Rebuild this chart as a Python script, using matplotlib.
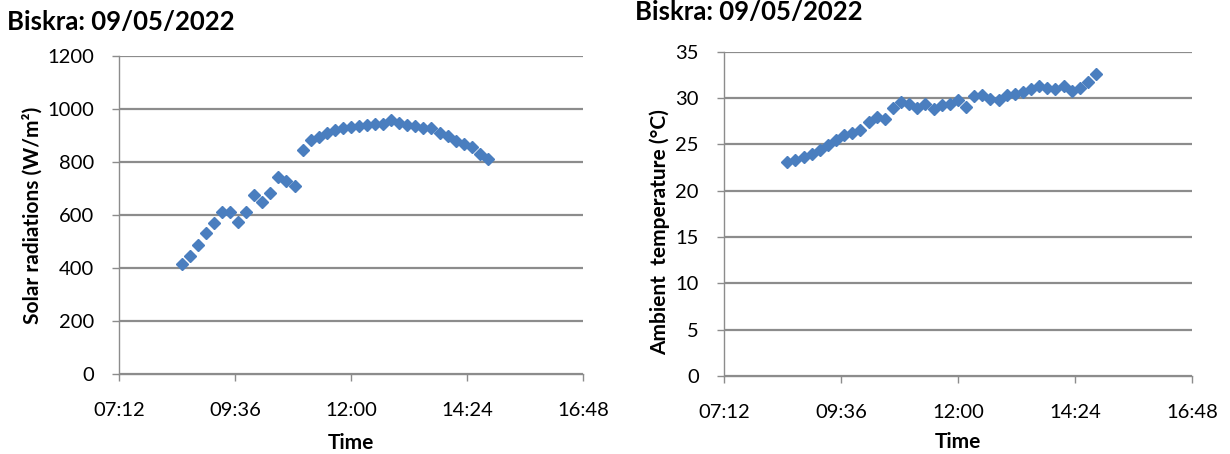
import matplotlib
matplotlib.use("Agg")
import matplotlib.pyplot as plt
from matplotlib.ticker import FuncFormatter, MultipleLocator

plt.rcParams['font.family'] = ['Lato', 'DejaVu Sans']

# Measurement times (hours of day), every 10 minutes from 08:30 to 14:50
times_h = [8.5 + i / 6 for i in range(39)]

solar_radiation = [
    415, 445, 487, 532, 570, 612, 612, 574, 612, 678,
    650, 685, 745, 730, 712, 848, 883, 897, 910, 920,
    928, 933, 938, 942, 944, 946, 958, 948, 940, 935,
    930, 928, 912, 898, 882, 870, 858, 830, 812,
]

ambient_temp = [
    23.1, 23.3, 23.6, 24.0, 24.4, 24.9, 25.5, 26.0, 26.2, 26.5,
    27.4, 28.0, 27.7, 28.9, 29.6, 29.4, 28.9, 29.4, 28.8, 29.3,
    29.4, 29.8, 29.0, 30.2, 30.3, 29.9, 29.8, 30.3, 30.4, 30.7,
    31.0, 31.3, 31.1, 31.0, 31.3, 30.8, 31.1, 31.7, 32.6,
]

title = "Biskra: 09/05/2022"
xlabel = "Time"
ylabel_left = "Solar radiations (W/m²)"
ylabel_right = "Ambient  temperature (°C)"

# Excel-style serial day fractions
x_days = [t / 24 for t in times_h]

BLUE = "#4A7EBF"
GRID = "#8C8C8C"
TICK_FS = 14.5
LABEL_FS = 15


def hhmm(v, pos):
    total = int(round(v * 24 * 60))
    return f"{total // 60:02d}:{total % 60:02d}"


def style_axes(ax, ymax, ystep):
    ax.set_xlim(0.3, 0.7)
    ax.xaxis.set_major_locator(MultipleLocator(0.1))
    ax.xaxis.set_major_formatter(FuncFormatter(hhmm))
    ax.set_ylim(0, ymax)
    ax.yaxis.set_major_locator(MultipleLocator(ystep))
    ax.grid(axis="y", color=GRID, linewidth=1.6)
    ax.set_axisbelow(True)
    for s in ("top", "right"):
        ax.spines[s].set_visible(False)
    for s in ("left", "bottom"):
        ax.spines[s].set_color(GRID)
        ax.spines[s].set_linewidth(1.0)
    ax.tick_params(axis="both", colors=GRID, labelcolor="black",
                   labelsize=TICK_FS, length=5, width=1.0)
    ax.tick_params(axis="x", pad=15)
    ax.tick_params(axis="y", pad=13)


fig = plt.figure(figsize=(12.3, 4.54), dpi=100)

ax1 = fig.add_axes([0.0967, 0.176, 0.3772, 0.700])
ax1.plot(x_days, solar_radiation, linestyle="none", marker="D",
         markersize=6.5, color=BLUE, markeredgecolor=BLUE, clip_on=False)
style_axes(ax1, 1200, 200)
ax1.set_xlabel(xlabel, fontsize=LABEL_FS, fontweight="bold", labelpad=10)
ax1.set_ylabel(ylabel_left, fontsize=LABEL_FS, fontweight="bold")
ax1.yaxis.set_label_coords(-0.165, 0.5)
fig.text(0.006, 0.952, title, fontsize=18.5, fontweight="bold",
         ha="left", va="center")

ax2 = fig.add_axes([0.5886, 0.172, 0.3805, 0.714])
ax2.plot(x_days, ambient_temp, linestyle="none", marker="D",
         markersize=6.5, color=BLUE, markeredgecolor=BLUE, clip_on=False)
style_axes(ax2, 35, 5)
ax2.set_xlabel(xlabel, fontsize=LABEL_FS, fontweight="bold", labelpad=8)
ax2.set_ylabel(ylabel_right, fontsize=LABEL_FS, fontweight="bold")
ax2.yaxis.set_label_coords(-0.116, 0.445)
fig.text(0.516, 0.999, title, fontsize=18.5, fontweight="bold",
         ha="left", va="top")

fig.savefig("out.png", dpi=100)
